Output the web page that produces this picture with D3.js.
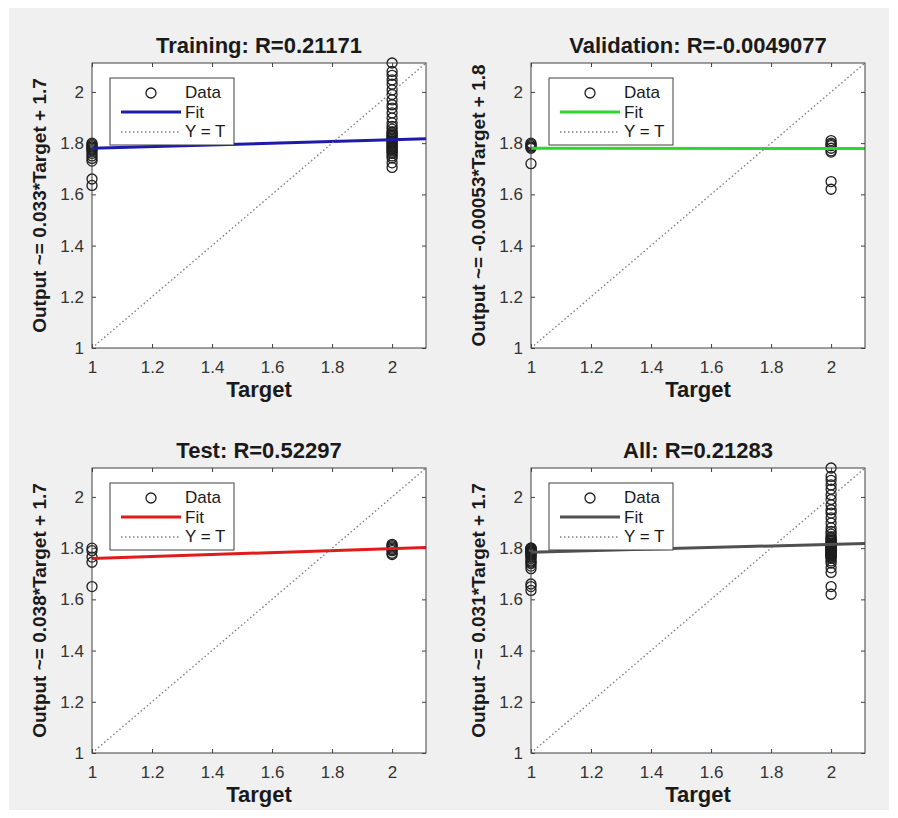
<!DOCTYPE html>
<html>
<head>
<meta charset="utf-8">
<script src="https://cdn.jsdelivr.net/npm/d3@7"></script>
<style>
  body { margin: 0; background: #ffffff; }
  svg { display: block; font-family: "Liberation Sans", Arial, sans-serif; }
  .tick text { fill: #333333; font-size: 17px; }
  .title, .xlabel, .ylabel { font-weight: bold; fill: #1a1a1a; }
</style>
</head>
<body>
<script>

// chart values
var panelNames = ["Training", "Validation", "Test", "All"];
var rValues = ["0.21171", "-0.0049077", "0.52297", "0.21283"];
var yLabels = ["Output ~= 0.033*Target + 1.7", "Output ~= -0.00053*Target + 1.8",
               "Output ~= 0.038*Target + 1.7", "Output ~= 0.031*Target + 1.7"];
var fitSlopes = [0.033, -0.00053, 0.038, 0.031];
var fitIntercepts = [1.747, 1.7805, 1.722, 1.753];
var tickVals = [1, 1.2, 1.4, 1.6, 1.8, 2];
var legendLabels = ["Data", "Fit", "Y = T"];

// outputs for target = 1 and target = 2
var trainOut1 = [1.80, 1.795, 1.79, 1.785, 1.78, 1.775, 1.77, 1.76, 1.75, 1.74, 1.73, 1.66, 1.635];
var trainOut2 = [2.113, 2.08, 2.065, 2.047, 2.03, 2.008, 1.99, 1.969, 1.95, 1.937, 1.918, 1.898, 1.879,
                 1.865, 1.855, 1.845, 1.84, 1.835, 1.83, 1.825, 1.82, 1.815, 1.81, 1.805, 1.80, 1.795,
                 1.79, 1.785, 1.78, 1.775, 1.77, 1.765, 1.76, 1.75, 1.742, 1.723, 1.705];
var valOut1 = [1.80, 1.795, 1.79, 1.785, 1.78, 1.72];
var valOut2 = [1.81, 1.80, 1.795, 1.79, 1.78, 1.77, 1.765, 1.65, 1.62];
var testOut1 = [1.80, 1.79, 1.765, 1.745, 1.65];
var testOut2 = [1.815, 1.81, 1.805, 1.80, 1.795, 1.79, 1.78, 1.775];

function pairs(out1, out2) {
    return out1.map(function(v) { return {t: 1, y: v}; })
        .concat(out2.map(function(v) { return {t: 2, y: v}; }));
}

var panelData = [
    pairs(trainOut1, trainOut2),
    pairs(valOut1, valOut2),
    pairs(testOut1, testOut2),
    pairs(trainOut1.concat(valOut1, testOut1), trainOut2.concat(valOut2, testOut2))
];

var fitColors = ["#1c1ca8", "#2fd62f", "#e01b1b", "#505050"];

var width = 898, height = 818;
var svg = d3.select("body").append("svg")
    .attr("width", width)
    .attr("height", height);

// figure background
svg.append("rect")
    .attr("x", 9).attr("y", 8)
    .attr("width", 880).attr("height", 802)
    .attr("fill", "#f0f0f0");

var axW = 334, axH = 285;
var origins = [[92, 63], [531, 63], [92, 468], [531, 468]];

var maxVal = d3.max(panelData[3], function(d) { return d.y; });
var x = d3.scaleLinear().domain([1, maxVal]).range([0, axW]);
var y = d3.scaleLinear().domain([1, maxVal]).range([axH, 0]);

panelData.forEach(function(data, i) {
    var g = svg.append("g")
        .attr("transform", "translate(" + origins[i][0] + "," + origins[i][1] + ")");

    g.append("rect")
        .attr("width", axW).attr("height", axH)
        .attr("fill", "#ffffff");

    var fmt = function(d) { return String(+d.toFixed(1)); };

    /* ticks on all four sides, pointing inwards */
    g.append("g").attr("transform", "translate(0," + axH + ")")
        .call(d3.axisBottom(x).tickValues(tickVals).tickFormat(fmt).tickSize(-4).tickSizeOuter(0).tickPadding(13));
    g.append("g")
        .call(d3.axisLeft(y).tickValues(tickVals).tickFormat(fmt).tickSize(-4).tickSizeOuter(0).tickPadding(8));
    g.append("g")
        .call(d3.axisTop(x).tickValues(tickVals).tickFormat("").tickSize(-4).tickSizeOuter(0));
    g.append("g").attr("transform", "translate(" + axW + ",0)")
        .call(d3.axisRight(y).tickValues(tickVals).tickFormat("").tickSize(-4).tickSizeOuter(0));
    g.selectAll(".domain").remove();
    g.selectAll(".tick line").attr("stroke", "#404040");

    // data circles
    g.selectAll("circle.pt")
        .data(data)
        .enter().append("circle")
        .attr("class", "pt")
        .attr("cx", function(d) { return x(d.t); })
        .attr("cy", function(d) { return y(d.y); })
        .attr("r", 5)
        .attr("fill", "none")
        .attr("stroke", "#1e1e1e")
        .attr("stroke-width", 1.3);

    // fit line
    var xs = x.domain();
    g.append("line")
        .attr("x1", x(xs[0])).attr("y1", y(fitSlopes[i] * xs[0] + fitIntercepts[i]))
        .attr("x2", x(xs[1])).attr("y2", y(fitSlopes[i] * xs[1] + fitIntercepts[i]))
        .attr("stroke", fitColors[i])
        .attr("stroke-width", 3);

    // Y = T line
    g.append("line")
        .attr("x1", x(xs[0])).attr("y1", y(xs[0]))
        .attr("x2", x(xs[1])).attr("y2", y(xs[1]))
        .attr("stroke", "#808080")
        .attr("stroke-width", 1.4)
        .attr("stroke-dasharray", "1.5,2.5");

    // axes box
    g.append("rect")
        .attr("width", axW).attr("height", axH)
        .attr("fill", "none")
        .attr("stroke", "#404040")
        .attr("stroke-width", 1);

    /* legend */
    var lg = g.append("g").attr("transform", "translate(18,15)");
    lg.append("rect")
        .attr("width", 124).attr("height", 67)
        .attr("fill", "#ffffff")
        .attr("stroke", "#404040")
        .attr("stroke-width", 1);
    lg.append("circle")
        .attr("cx", 41).attr("cy", 15).attr("r", 5)
        .attr("fill", "none").attr("stroke", "#1e1e1e").attr("stroke-width", 1.3);
    lg.append("line")
        .attr("x1", 11).attr("x2", 71).attr("y1", 34).attr("y2", 34)
        .attr("stroke", fitColors[i]).attr("stroke-width", 3);
    lg.append("line")
        .attr("x1", 11).attr("x2", 71).attr("y1", 54).attr("y2", 54)
        .attr("stroke", "#808080").attr("stroke-width", 1.4)
        .attr("stroke-dasharray", "1.5,2.5");
    lg.selectAll("text")
        .data(legendLabels)
        .enter().append("text")
        .attr("x", 75)
        .attr("y", function(d, k) { return 20 + k * 19.5; })
        .attr("font-size", 17)
        .attr("fill", "#1a1a1a")
        .text(function(d) { return d; });

    // title and axis labels
    g.append("text")
        .attr("class", "title")
        .attr("x", axW / 2).attr("y", -10)
        .attr("text-anchor", "middle")
        .attr("font-size", 22)
        .text(panelNames[i] + ": R=" + rValues[i]);
    g.append("text")
        .attr("class", "xlabel")
        .attr("x", axW / 2).attr("y", axH + 49)
        .attr("text-anchor", "middle")
        .attr("font-size", 22)
        .text("Target");
    g.append("text")
        .attr("class", "ylabel")
        .attr("transform", "translate(-46," + (axH / 2) + ") rotate(-90)")
        .attr("text-anchor", "middle")
        .attr("font-size", 19)
        .text(yLabels[i]);
});

</script>
</body>
</html>
